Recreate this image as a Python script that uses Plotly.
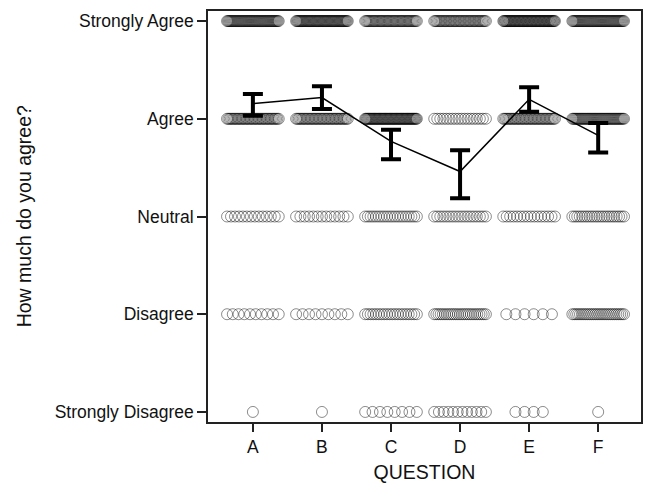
import numpy as np
import plotly.graph_objects as go

questions = ["A", "B", "C", "D", "E", "F"]
levels = ["Strongly Disagree", "Disagree", "Neutral", "Agree", "Strongly Agree"]

# response counts per level (SD, D, N, A, SA) for each question
counts_A = [1, 10, 14, 40, 55]
counts_B = [1, 9, 13, 40, 59]
counts_C = [8, 20, 20, 62, 45]
counts_D = [12, 25, 18, 18, 42]
counts_E = [4, 6, 16, 40, 65]
counts_F = [1, 28, 22, 50, 55]

# mean response and interval bounds per question
means = [4.155, 4.217, 3.768, 3.460, 4.199, 3.830]
err_hi = [0.099, 0.116, 0.120, 0.219, 0.123, 0.126]
err_lo = [0.123, 0.117, 0.182, 0.274, 0.126, 0.175]

all_counts = [counts_A, counts_B, counts_C, counts_D, counts_E, counts_F]

# stripchart-style spreading of points within each category
STEP = 0.132   # spacing between neighbouring points (data units)
HALF = 0.374   # maximum half-width of a group

xs, ys = [], []
for qi, cnts in enumerate(all_counts):
    for li, n in enumerate(cnts):
        if n <= 0:
            continue
        if n == 1:
            offs = np.array([0.0])
        else:
            span = min(STEP * (n - 1), 2 * HALF)
            offs = np.linspace(-span / 2, span / 2, n)
        xs.extend((qi + 1 + offs).tolist())
        ys.extend([li + 1] * n)

fig = go.Figure()
fig.add_trace(go.Scatter(
    x=xs, y=ys, mode="markers",
    marker=dict(symbol="circle-open", size=11, color="rgba(0,0,0,0.45)",
                line=dict(width=1)),
    hoverinfo="skip", showlegend=False,
))
fig.add_trace(go.Scatter(
    x=list(range(1, len(questions) + 1)), y=means, mode="lines",
    line=dict(color="black", width=1.5),
    error_y=dict(type="data", symmetric=False, array=err_hi, arrayminus=err_lo,
                 color="black", thickness=4, width=10),
    showlegend=False,
))

font_family = "Liberation Sans, Arial, sans-serif"
fig.update_layout(
    width=647, height=486,
    margin=dict(l=208, r=4, t=11, b=64),
    paper_bgcolor="white", plot_bgcolor="white",
    font=dict(family=font_family, size=17.5, color="#111"),
    xaxis=dict(
        range=[0.35, 6.62], tickvals=list(range(1, 7)), ticktext=questions,
        showgrid=False, zeroline=False, showline=True, mirror=True,
        linecolor="#222", linewidth=1.5, ticks="outside", ticklen=8,
        tickwidth=1.5, tickcolor="#222", tickfont=dict(size=17.5),
        title=dict(text="QUESTION", font=dict(size=19.5), standoff=10),
    ),
    yaxis=dict(
        range=[0.897, 5.103], tickvals=[1, 2, 3, 4, 5], ticktext=levels,
        showgrid=False, zeroline=False, showline=True, mirror=True,
        linecolor="#222", linewidth=1.5, ticks="outside", ticklen=9,
        tickwidth=1.5, tickcolor="#222", tickfont=dict(size=17.5),
    ),
    annotations=[dict(
        text="How much do you agree?", textangle=-90,
        xref="paper", yref="paper", x=(23 - 208) / 435, y=0.5,
        xanchor="center", yanchor="middle", showarrow=False,
        font=dict(size=19.5, color="#111"),
    )],
)
fig.write_html("out.html", config={"displayModeBar": False},
               post_script="document.body.style.margin='0';")
